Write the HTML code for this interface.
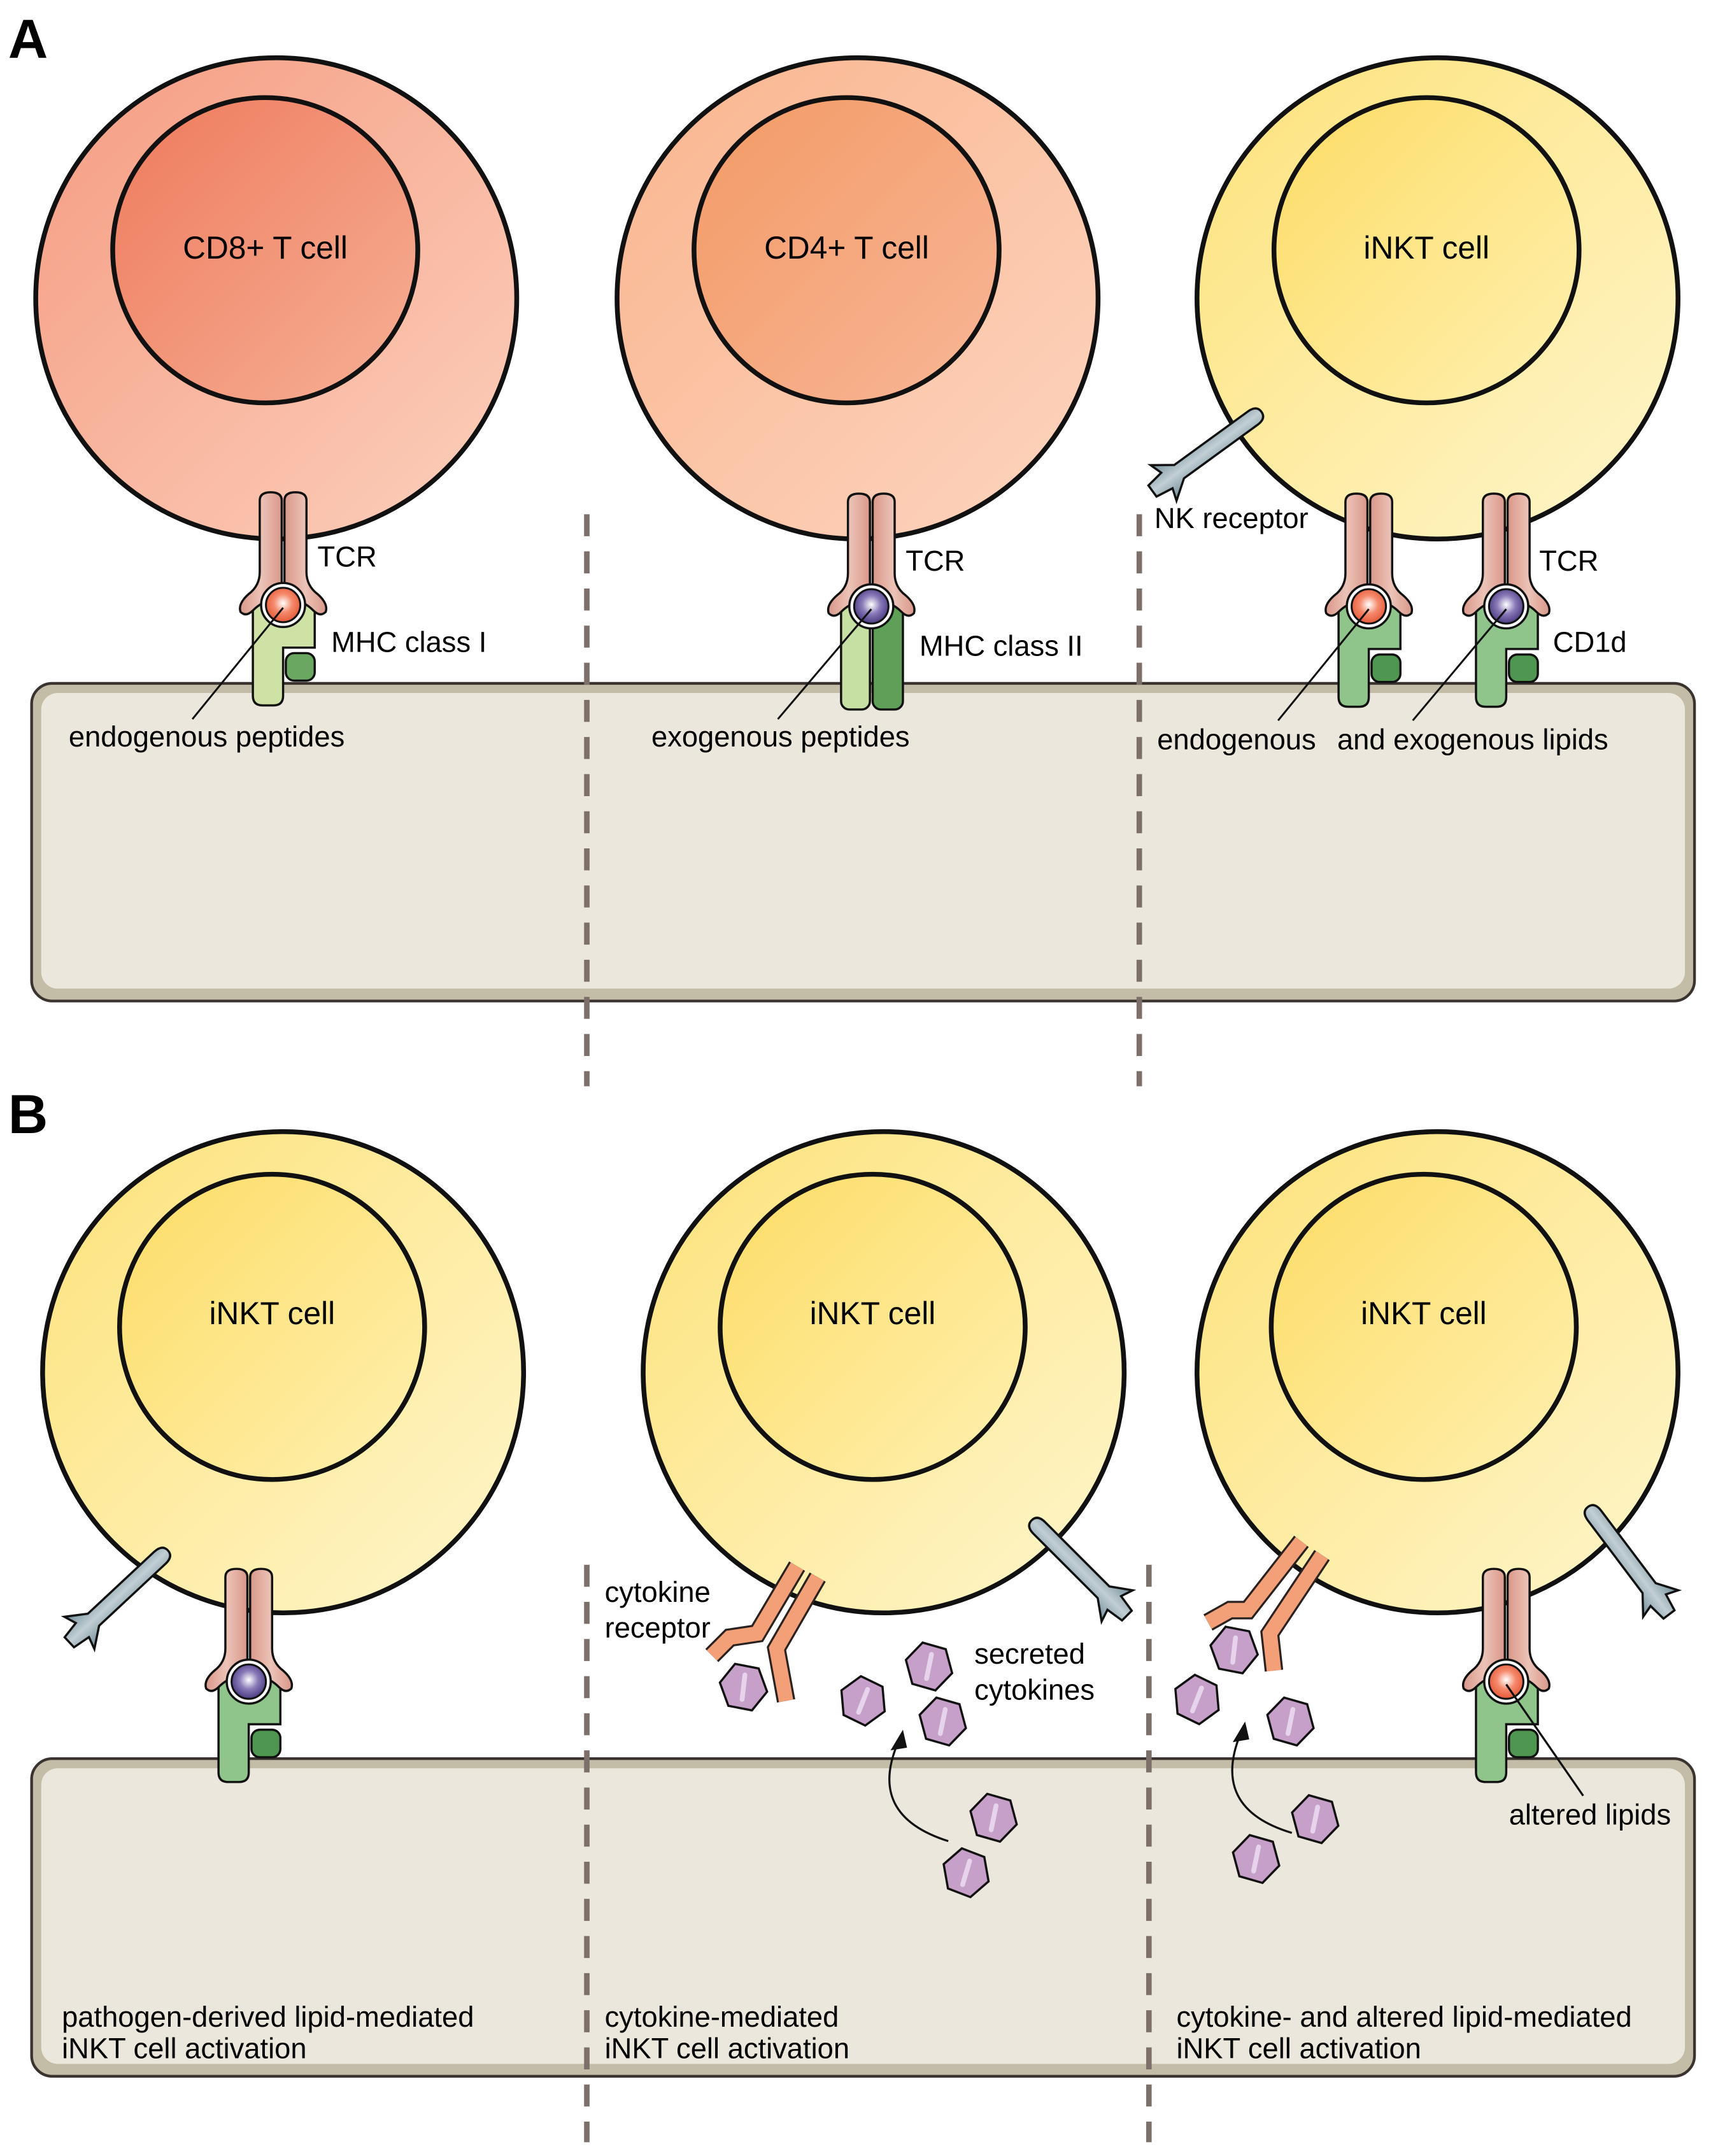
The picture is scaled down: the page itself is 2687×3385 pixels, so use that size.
<!DOCTYPE html>
<html><head><meta charset="utf-8"><style>html,body{margin:0;padding:0;background:#fff}svg{display:block}</style></head><body>
<svg width="2687" height="3385" viewBox="0 0 1245 1568" preserveAspectRatio="none" xmlns="http://www.w3.org/2000/svg" font-family="Liberation Sans, sans-serif">
<defs>
<linearGradient id="cd8o" x1="0" y1="0" x2="1" y2="1"><stop offset="0" stop-color="#f59c82"/><stop offset="1" stop-color="#fcd0bc"/></linearGradient>
<linearGradient id="cd8n" x1="0" y1="0" x2="1" y2="1"><stop offset="0" stop-color="#ef7a5c"/><stop offset="1" stop-color="#f6b096"/></linearGradient>
<linearGradient id="cd4o" x1="0" y1="0" x2="1" y2="1"><stop offset="0" stop-color="#f9b58e"/><stop offset="1" stop-color="#fdd4bf"/></linearGradient>
<linearGradient id="cd4n" x1="0" y1="0" x2="1" y2="1"><stop offset="0" stop-color="#f39a66"/><stop offset="1" stop-color="#f8b696"/></linearGradient>
<linearGradient id="nko" x1="0" y1="0" x2="1" y2="1"><stop offset="0" stop-color="#fde27a"/><stop offset="1" stop-color="#fef6cc"/></linearGradient>
<linearGradient id="nkn" x1="0" y1="0" x2="1" y2="1"><stop offset="0" stop-color="#fddc66"/><stop offset="1" stop-color="#fef0b0"/></linearGradient>
<radialGradient id="ballO" cx="0.5" cy="0.45" r="0.6"><stop offset="0" stop-color="#fff"/><stop offset="0.45" stop-color="#f58a6c"/><stop offset="1" stop-color="#e2502e"/></radialGradient>
<radialGradient id="ballP" cx="0.5" cy="0.45" r="0.6"><stop offset="0" stop-color="#fff"/><stop offset="0.45" stop-color="#8a7ab8"/><stop offset="1" stop-color="#3f2f78"/></radialGradient>
<linearGradient id="tcr" x1="0" y1="0" x2="1" y2="0"><stop offset="0" stop-color="#d9988a"/><stop offset="0.5" stop-color="#ecc3b7"/><stop offset="1" stop-color="#d9988a"/></linearGradient>
<linearGradient id="gray" x1="0" y1="0" x2="1" y2="0"><stop offset="0" stop-color="#6f8b97"/><stop offset="0.5" stop-color="#c2cfd4"/><stop offset="1" stop-color="#6f8b97"/></linearGradient>
<g id="tcrArm"><path d="M-1,-2 L-1,-76 Q-1,-82 -9,-82 Q-17,-82 -17,-76 L-17,-24 Q-17,-14 -25,-8 Q-33,-1 -31,5 Q-27,9 -22,4 Q-16,-2 -8,-4 Z" fill="url(#tcr)" stroke="#111" stroke-width="1.6"/></g>
<g id="tcrPair"><use href="#tcrArm"/><use href="#tcrArm" transform="scale(-1,1)"/></g>
<g id="mhc1"><path d="M-22,4 Q-22,-4 -14,-4 L16,-4 Q23,-4 23,4 L23,31 L0,31 L0,66 Q0,73 -7,73 L-15,73 Q-22,73 -22,66 Z" fill="#cfe2a6" stroke="#111" stroke-width="1.6"/><rect x="2" y="35" width="21" height="20" rx="6" fill="#6aa760" stroke="#111" stroke-width="1.6"/></g>
<g id="mhc1d"><path d="M-22,4 Q-22,-4 -14,-4 L16,-4 Q23,-4 23,4 L23,31 L0,31 L0,66 Q0,73 -7,73 L-15,73 Q-22,73 -22,66 Z" fill="#8fc48a" stroke="#111" stroke-width="1.6"/><rect x="2" y="35" width="21" height="20" rx="6" fill="#4f9650" stroke="#111" stroke-width="1.6"/></g>
<g id="mhc2"><rect x="-22" y="-4" width="21" height="79" rx="6" fill="#c6e0a4" stroke="#111" stroke-width="1.6"/><rect x="1" y="-4" width="22" height="79" rx="6" fill="#5f9f58" stroke="#111" stroke-width="1.6"/></g>
<g id="ringO"><circle r="16" fill="#fff" stroke="#111" stroke-width="1.6"/><circle r="12.5" fill="url(#ballO)" stroke="#111" stroke-width="1.4"/></g>
<g id="ringP"><circle r="16" fill="#fff" stroke="#111" stroke-width="1.6"/><circle r="12.5" fill="url(#ballP)" stroke="#111" stroke-width="1.4"/></g>
<g id="nkr"><path d="M-6,0 L-6,-66 Q-6,-74 0,-74 Q6,-74 6,-66 L6,0 L16,14 L7,11 L5,24 L-5,24 L-7,11 L-16,14 Z" fill="url(#gray)" stroke="#111" stroke-width="1.6"/></g>
<g id="hex"><polygon points="0,-18 15,-9 15,9 0,18 -15,9 -15,-9" fill="#c6a0c9" stroke="#111" stroke-width="1.6"/><line x1="-4" y1="8" x2="4" y2="-8" stroke="#e6d4ec" stroke-width="3.5" stroke-linecap="round"/></g>
</defs>

<text x="6" y="42" font-size="40" font-weight="bold">A</text>
<text x="6" y="824" font-size="40" font-weight="bold">B</text>

<rect x="23" y="497" width="1210" height="231" rx="15" fill="#c3bca6" stroke="#3a3330" stroke-width="2"/>
<rect x="30" y="504" width="1196" height="215" rx="12" fill="#ece7dc"/>
<rect x="23" y="1279" width="1210" height="231" rx="15" fill="#c3bca6" stroke="#3a3330" stroke-width="2"/>
<rect x="30" y="1286" width="1196" height="215" rx="12" fill="#ece7dc"/>

<g stroke="#7d6f6a" stroke-width="4" stroke-dasharray="16 11">
<line x1="427" y1="374" x2="427" y2="790"/><line x1="829" y1="374" x2="829" y2="790"/>
<line x1="427" y1="1138" x2="427" y2="1558"/><line x1="836" y1="1138" x2="836" y2="1558"/>
</g>

<!-- A cells -->
<circle cx="201" cy="217" r="175" fill="url(#cd8o)" stroke="#111" stroke-width="3.5"/>
<circle cx="193" cy="182" r="111" fill="url(#cd8n)" stroke="#111" stroke-width="3.5"/>
<text x="193" y="188" font-size="23" text-anchor="middle">CD8+ T cell</text>
<circle cx="624" cy="217" r="175" fill="url(#cd4o)" stroke="#111" stroke-width="3.5"/>
<circle cx="616" cy="182" r="111" fill="url(#cd4n)" stroke="#111" stroke-width="3.5"/>
<text x="616" y="188" font-size="23" text-anchor="middle">CD4+ T cell</text>
<circle cx="1046" cy="217" r="175" fill="url(#nko)" stroke="#111" stroke-width="3.5"/>
<circle cx="1038" cy="182" r="111" fill="url(#nkn)" stroke="#111" stroke-width="3.5"/>
<text x="1038" y="188" font-size="23" text-anchor="middle">iNKT cell</text>

<g transform="translate(206,440)"><use href="#mhc1"/><use href="#tcrPair"/><use href="#ringO"/></g>
<g transform="translate(634,441)"><use href="#mhc2"/><use href="#tcrPair"/><use href="#ringP"/></g>
<g transform="translate(996,441)"><use href="#mhc1d"/><use href="#tcrPair"/><use href="#ringO"/></g>
<g transform="translate(1096,441)"><use href="#mhc1d"/><use href="#tcrPair"/><use href="#ringP"/></g>

<g stroke="#111" stroke-width="1.4">
<line x1="206" y1="442" x2="140" y2="523"/><line x1="634" y1="443" x2="566" y2="523"/>
<line x1="996" y1="443" x2="930" y2="524"/><line x1="1096" y1="443" x2="1028" y2="524"/>
</g>
<g font-size="21">
<text x="231" y="412">TCR</text><text x="241" y="474">MHC class I</text>
<text x="50" y="543">endogenous peptides</text>
<text x="659" y="415">TCR</text><text x="669" y="477">MHC class II</text>
<text x="474" y="543">exogenous peptides</text>
<text x="840" y="384">NK receptor</text>
<text x="1120" y="415">TCR</text><text x="1130" y="474">CD1d</text>
<text x="842" y="545">endogenous</text><text x="973" y="545">and exogenous lipids</text>
</g>

<!-- B cells -->
<circle cx="206" cy="998" r="175" fill="url(#nko)" stroke="#111" stroke-width="3.5"/>
<circle cx="198" cy="965" r="111" fill="url(#nkn)" stroke="#111" stroke-width="3.5"/>
<text x="198" y="963" font-size="23" text-anchor="middle">iNKT cell</text>
<circle cx="643" cy="998" r="175" fill="url(#nko)" stroke="#111" stroke-width="3.5"/>
<circle cx="635" cy="965" r="111" fill="url(#nkn)" stroke="#111" stroke-width="3.5"/>
<text x="635" y="963" font-size="23" text-anchor="middle">iNKT cell</text>
<circle cx="1046" cy="998" r="175" fill="url(#nko)" stroke="#111" stroke-width="3.5"/>
<circle cx="1036" cy="965" r="111" fill="url(#nkn)" stroke="#111" stroke-width="3.5"/>
<text x="1036" y="963" font-size="23" text-anchor="middle">iNKT cell</text>

<!-- NK receptors in front of cells -->
<use href="#nkr" transform="translate(858,343) rotate(54)"/>
<use href="#nkr" transform="translate(68,1178) rotate(47)"/>
<use href="#nkr" transform="translate(803,1158) rotate(-45)"/>
<use href="#nkr" transform="translate(1200,1155) rotate(-37)"/>

<g transform="translate(181,1223)"><use href="#mhc1d"/><use href="#tcrPair"/><use href="#ringP"/></g>
<g transform="translate(1096,1223)"><use href="#mhc1d"/><use href="#tcrPair"/><use href="#ringO"/></g>

<g fill="none" stroke-linejoin="miter" stroke-linecap="butt">
<g stroke="#2a2220" stroke-width="13.5">
<polyline points="580,1139 551,1188 531,1191 518,1204"/>
<polyline points="595,1147 565,1199 572,1237"/>
<polyline points="947,1121 908,1171 895,1171 879,1180"/>
<polyline points="962,1131 924,1188 927,1215"/>
</g>
<g stroke="#f3a078" stroke-width="10.5">
<polyline points="580,1139 551,1188 531,1191 518,1204"/>
<polyline points="595,1147 565,1199 572,1237"/>
<polyline points="947,1121 908,1171 895,1171 879,1180"/>
<polyline points="962,1131 924,1188 927,1215"/>
</g>
</g>

<use href="#hex" transform="translate(541,1227) rotate(-20)"/>
<use href="#hex" transform="translate(628,1237) rotate(-5)"/>
<use href="#hex" transform="translate(676,1212) rotate(-15)"/>
<use href="#hex" transform="translate(686,1252) rotate(-15)"/>
<use href="#hex" transform="translate(723,1322) rotate(-15)"/>
<use href="#hex" transform="translate(703,1362) rotate(-10)"/>
<use href="#hex" transform="translate(898,1200) rotate(-20)"/>
<use href="#hex" transform="translate(871,1236) rotate(-5)"/>
<use href="#hex" transform="translate(939,1252) rotate(-15)"/>
<use href="#hex" transform="translate(957,1323) rotate(-15)"/>
<use href="#hex" transform="translate(914,1352) rotate(-15)"/>

<g fill="none" stroke="#111" stroke-width="1.5">
<path d="M690,1339 Q630,1320 654,1266"/>
<path d="M940,1333 Q880,1315 903,1260"/>
<line x1="1096" y1="1225" x2="1152" y2="1306"/>
</g>
<polygon points="657,1258 648,1273 660,1271" fill="#111"/>
<polygon points="906,1252 897,1267 909,1265" fill="#111"/>

<g font-size="21">
<text x="440" y="1165">cytokine</text><text x="440" y="1191">receptor</text>
<text x="709" y="1210">secreted</text><text x="709" y="1236">cytokines</text>
<text x="1098" y="1327">altered lipids</text>
<text x="45" y="1474">pathogen-derived lipid-mediated</text><text x="45" y="1497">iNKT cell activation</text>
<text x="440" y="1474">cytokine-mediated</text><text x="440" y="1497">iNKT cell activation</text>
<text x="856" y="1474">cytokine- and altered lipid-mediated</text><text x="856" y="1497">iNKT cell activation</text>
</g>
</svg>
</body></html>
